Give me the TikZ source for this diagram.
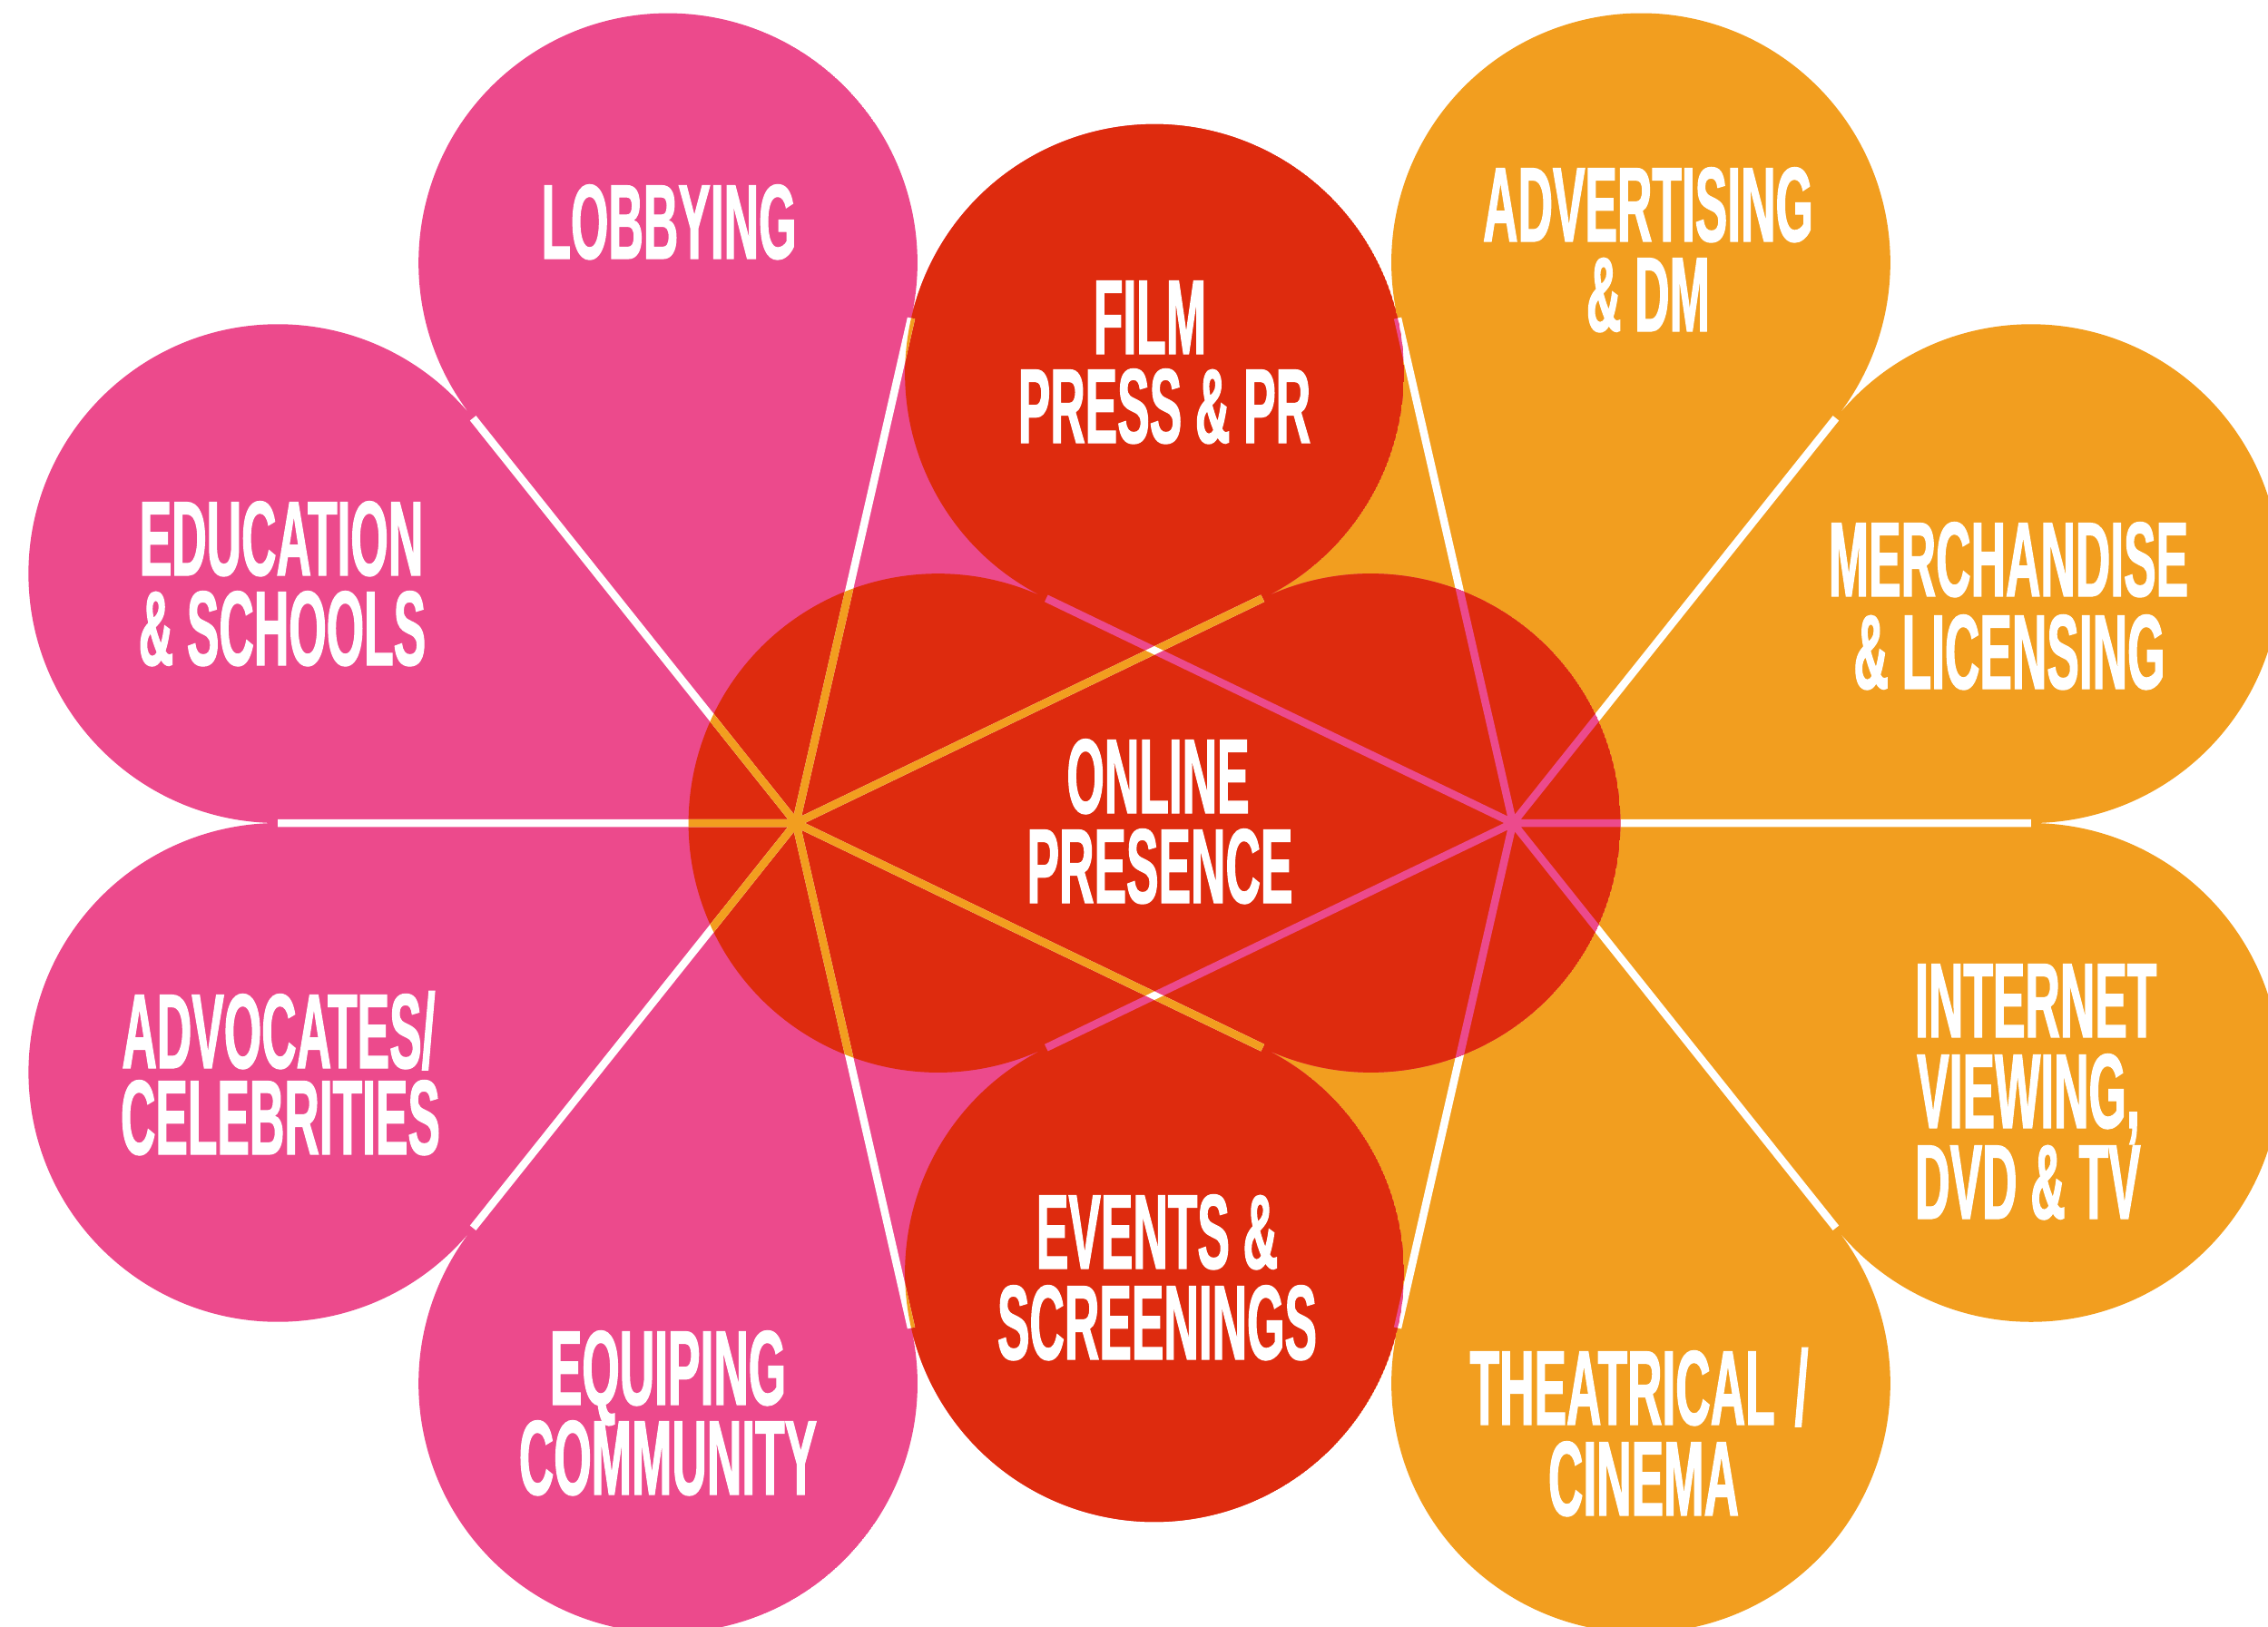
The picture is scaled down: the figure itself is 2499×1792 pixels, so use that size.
\documentclass[tikz,border=0pt]{standalone}
\usepackage{fontspec}
\newfontfamily\condfam{Liberation Sans}[FakeStretch=0.455,FakeBold=1]
\newcommand\lblfont{\condfam\bfseries\fontsize{117pt}{100pt}\selectfont}
\definecolor{pnk}{RGB}{236,74,140}
\definecolor{org}{RGB}{242,158,31}
\definecolor{rd}{RGB}{222,43,14}
\tikzset{
  flowerL/.style={insert path={foreach \a in {0,51.4286,102.8571,154.2857,205.7143,257.1429,308.5714}
    {(L) -- ++({\a-25.7143}:570.77) arc[start angle={\a-115.7143}, end angle={\a+115.7143}, radius=274.87] -- cycle}}},
  flowerR/.style={insert path={foreach \a in {180,231.4286,282.8571,334.2857,385.7143,437.1429,488.5714}
    {(R) -- ++({\a-25.7143}:570.77) arc[start angle={\a-115.7143}, end angle={\a+115.7143}, radius=274.87] -- cycle}}},
  gapsL/.style={insert path={foreach \b in {25.7143,77.1429,128.5714,180,231.4286,282.8571,334.2857}
    {(L) -- ++(\b:570.77)}}},
  gapsR/.style={insert path={foreach \b in {0,51.4286,102.8571,154.2857,205.7143,257.1429,308.5714}
    {(R) -- ++(\b:570.77)}}},
  gapline/.style={line width=8.5pt},
  lbl/.style={text=white, font=\lblfont, inner sep=0pt, text height=85pt, text depth=1pt, anchor=base},
  lblw/.style={lbl, anchor=base west}
}
\begin{document}
\begin{tikzpicture}[x=1pt,y=-1pt]
\useasboundingbox (0,0) rectangle (2499,1792);
\fill[white] (0,0) rectangle (2499,1792);
\coordinate (L) at (877,907);
\coordinate (R) at (1667,907);
% orange flower
\fill[org, flowerR];
\draw[white, gapline, gapsR];
% pink flower, red where both overlap
\begin{scope}
  \clip[flowerL];
  \fill[pnk, flowerL];
  \begin{scope}
    \clip[flowerR];
    \fill[rd, flowerL];
  \end{scope}
  \draw[pnk, gapline, gapsR];
\end{scope}
\draw[white, gapline, gapsL];
\begin{scope}
  \clip[flowerR];
  \draw[org, gapline, gapsL];
\end{scope}
% crossings of the two sets of gaps
\begin{scope}
  \clip (R) ++(295.7143:4.25) -- ++(205.7143:570.77) -- ++(115.7143:8.5) -- ++(25.7143:570.77) -- cycle;
  \draw[white, gapline] (L) -- ++(-25.7143:570.77);
\end{scope}
\begin{scope}
  \clip (R) ++(244.2857:4.25) -- ++(154.2857:570.77) -- ++(64.2857:8.5) -- ++(334.2857:570.77) -- cycle;
  \draw[white, gapline] (L) -- ++(25.7143:570.77);
\end{scope}
% labels
\node[lbl] (lob) at (737,285) {LOBBYING};
\node[lbl] (edu1) at (310,634) {EDUCATION};
\node[lbl] (edu2) at (311,733) {\& SCHOOLS};
\node[lbl] (adv1) at (307,1177) {ADVOCATES/};
\node[lbl] (adv2) at (309,1272) {CELEBRITIES};
\node[lbl] (equ1) at (736,1548) {EQUIPING};
\node[lbl] (equ2) at (736,1647) {COMMUNITY};
\node[lbl] (film1) at (1267,390) {FILM};
\node[lbl] (film2) at (1283,488) {PRESS \& PR};
\node[lbl] (onl1) at (1276,896) {ONLINE};
\node[lbl] (onl2) at (1278,995) {PRESENCE};
\node[lbl] (evt1) at (1275,1398) {EVENTS \&};
\node[lbl] (evt2) at (1275,1498) {SCREENINGS};
\node[lbl] (advt1) at (1816,266) {ADVERTISING};
\node[lbl] (advt2) at (1816,365) {\& DM};
\node[lbl] (mer1) at (2213,657) {MERCHANDISE};
\node[lbl] (mer2) at (2214,759) {\& LICENSING};
\node[lblw] (int1) at (2110,1143) {INTERNET};
\node[lblw] (int2) at (2112,1243) {VIEWING,};
\node[lblw] (int3) at (2110,1343) {DVD \& TV};
\node[lbl] (the1) at (1806,1570) {THEATRICAL\hspace{22pt}/};
\node[lbl] (the2) at (1811,1670) {CINEMA};
\end{tikzpicture}
\end{document}
